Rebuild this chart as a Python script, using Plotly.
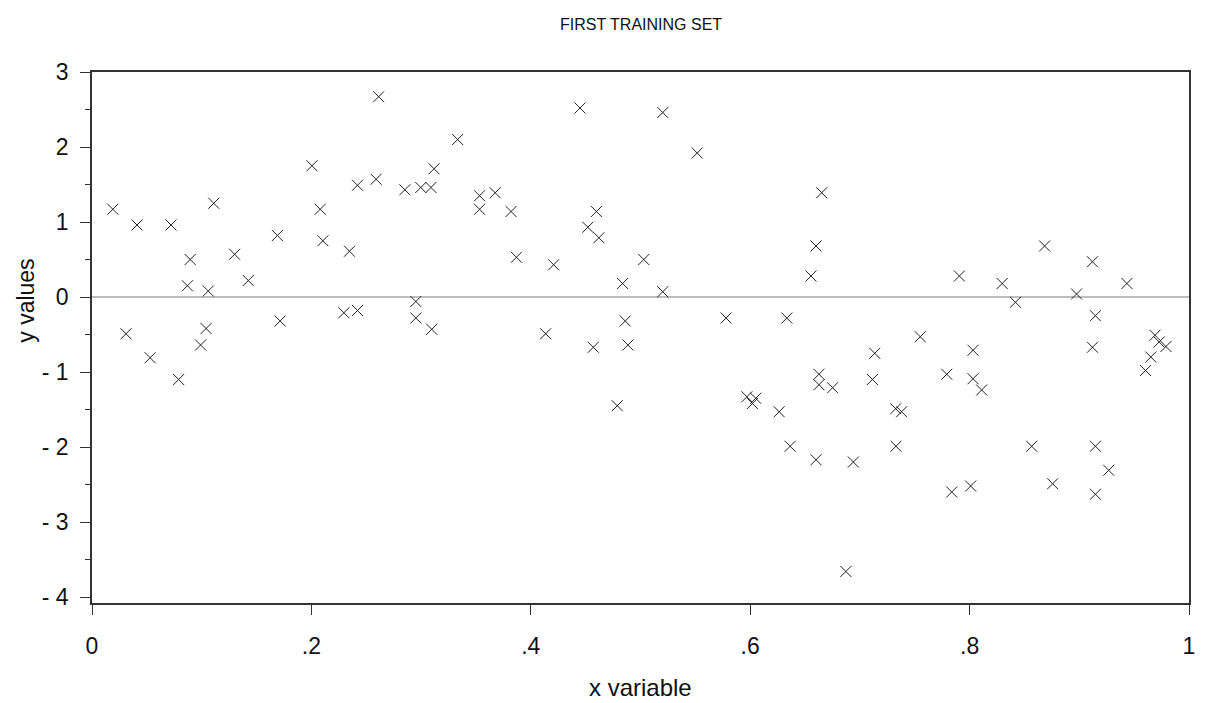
import plotly.graph_objects as go

x_vals = [
    0.019, 0.031, 0.041, 0.053, 0.072, 0.079, 0.087, 0.0895, 0.099, 0.104, 0.106, 0.111,
    0.130, 0.1425, 0.169, 0.1715, 0.2005, 0.208, 0.2105, 0.2296, 0.2347, 0.242, 0.242,
    0.259, 0.2613, 0.2852, 0.2952, 0.2952, 0.2997, 0.309, 0.3097, 0.3118, 0.3333,
    0.3533, 0.3533, 0.3675, 0.382, 0.3869, 0.4135, 0.4208, 0.4449, 0.452, 0.457, 0.4598,
    0.4621, 0.4788, 0.4837, 0.4861, 0.4885, 0.503, 0.5203, 0.5203, 0.5517, 0.578,
    0.597, 0.605, 0.602, 0.6264, 0.6334, 0.6364, 0.6554, 0.660, 0.660, 0.6627, 0.6627,
    0.6652, 0.6751, 0.6872, 0.694, 0.7114, 0.7135, 0.7326, 0.7329, 0.738, 0.755, 0.7792,
    0.7837, 0.7907, 0.801, 0.8031, 0.8031, 0.811, 0.8297, 0.8418, 0.8566, 0.8684, 0.8757,
    0.8975, 0.912, 0.912, 0.9147, 0.9147, 0.9147, 0.9268, 0.9434, 0.9604, 0.9652, 0.969,
    0.9728, 0.979,
]
y_vals = [
    1.17, -0.49, 0.96, -0.81, 0.96, -1.10, 0.15, 0.50, -0.64, -0.42, 0.08, 1.25,
    0.57, 0.22, 0.82, -0.32, 1.75, 1.17, 0.75, -0.21, 0.61, 1.49, -0.18,
    1.57, 2.67, 1.43, -0.06, -0.28, 1.46, 1.46, -0.43, 1.71, 2.10,
    1.35, 1.17, 1.39, 1.14, 0.53, -0.49, 0.43, 2.52, 0.93, -0.67, 1.14,
    0.79, -1.45, 0.18, -0.32, -0.64, 0.50, 2.46, 0.07, 1.92, -0.28,
    -1.33, -1.35, -1.42, -1.53, -0.28, -1.99, 0.28, 0.68, -2.17, -1.03, -1.17,
    1.39, -1.21, -3.66, -2.20, -1.10, -0.75, -1.49, -1.99, -1.53, -0.53, -1.03,
    -2.60, 0.28, -2.52, -0.71, -1.09, -1.24, 0.18, -0.07, -1.99, 0.68, -2.49,
    0.04, 0.47, -0.67, -0.25, -1.99, -2.63, -2.31, 0.18, -0.98, -0.80, -0.51,
    -0.60, -0.66,
]

x_tick_vals = [0, 0.2, 0.4, 0.6, 0.8, 1.0]
x_tick_text = ["0", ".2", ".4", ".6", ".8", "1"]
y_tick_vals = [3, 2, 1, 0, -1, -2, -3, -4]
y_tick_text = ["3", "2", "1", "0", "- 1", "- 2", "- 3", "- 4"]

title_text = "FIRST TRAINING SET"
x_title = "x variable"
y_title = "y values"

FONT = "Liberation Sans, Arial, sans-serif"

fig = go.Figure()
fig.add_trace(go.Scatter(
    x=x_vals, y=y_vals, mode="markers",
    marker=dict(symbol="x-thin", size=11, line=dict(width=1, color="#222222"), color="#222222"),
    showlegend=False, hoverinfo="x+y",
))

fig.update_layout(
    width=1206, height=703,
    margin=dict(l=92, r=11, t=72, b=100, pad=0),
    paper_bgcolor="white", plot_bgcolor="white",
    font=dict(family=FONT, color="#111111"),
    xaxis=dict(
        range=[0, 1], tickvals=x_tick_vals, ticktext=x_tick_text,
        showgrid=False, zeroline=False,
        showline=True, linecolor="#333333", linewidth=1.5, mirror=True,
        ticks="outside", ticklen=10, tickwidth=1, tickcolor="#333333",
        tickfont=dict(size=23, family=FONT, color="#111111"),
        ticklabelstandoff=12,
    ),
    yaxis=dict(
        range=[-4.08, 3], tickvals=y_tick_vals, ticktext=y_tick_text,
        showgrid=False,
        zeroline=True, zerolinecolor="#bdbdbd", zerolinewidth=2,
        showline=True, linecolor="#333333", linewidth=1.5, mirror=True,
        ticks="outside", ticklen=10, tickwidth=1, tickcolor="#333333",
        tickfont=dict(size=23, family=FONT, color="#111111"),
        ticklabelstandoff=7,
        minor=dict(dtick=0.5, tick0=0, ticks="outside", ticklen=5, tickwidth=1, tickcolor="#333333"),
    ),
    annotations=[
        dict(text=title_text, xref="paper", yref="paper", x=0.5, y=1,
             xanchor="center", yanchor="middle", yshift=48, showarrow=False,
             font=dict(size=16, family=FONT, color="#111111")),
        dict(text=x_title, xref="paper", yref="paper", x=0.5, y=0,
             xanchor="center", yanchor="middle", yshift=-84, showarrow=False,
             font=dict(size=24, family=FONT, color="#111111")),
        dict(text=y_title, xref="paper", yref="y", x=0, y=-0.05,
             xanchor="center", yanchor="middle", xshift=-66, textangle=-90, showarrow=False,
             font=dict(size=23, family=FONT, color="#111111")),
    ],
)

fig.write_html("out.html")
